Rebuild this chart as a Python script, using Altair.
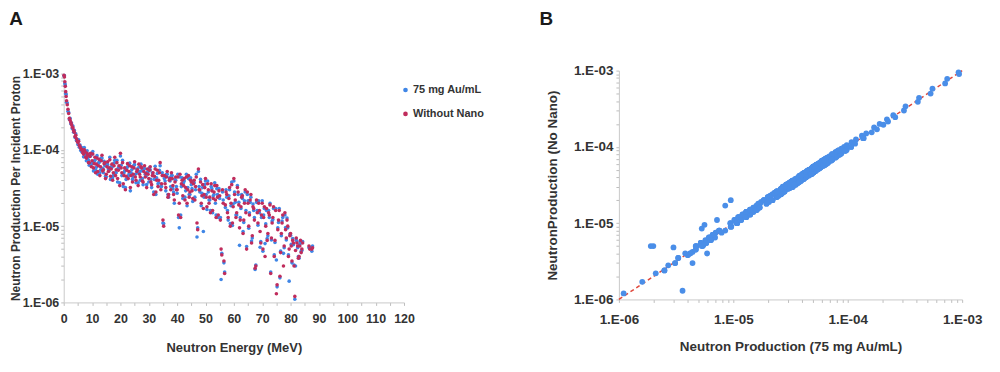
import altair as alt
import pandas as pd

# ---------------- data ----------------
ENERGY_MEV = [
    0.1, 0.25, 0.4, 0.55, 0.7, 0.85, 1.0, 1.25, 1.5, 1.75,
    2.0, 2.25, 2.5, 2.75, 3.0, 3.25, 3.5, 3.75, 4.0, 4.25, 4.5, 4.75, 5.0, 5.25, 5.5, 5.75,
    6.0, 6.25, 6.5, 6.75, 7.0, 7.25, 7.5, 7.75, 8.0, 8.25, 8.5, 8.75, 9.0, 9.25, 9.5, 9.75,
    10.0, 10.25, 10.5, 10.75, 11.0, 11.25, 11.5, 11.75, 12.0, 12.25, 12.5, 12.75, 13.0, 13.25, 13.5, 13.75,
    14.0, 14.25, 14.5, 14.75, 15.0, 15.25, 15.5, 15.75, 16.0, 16.25, 16.5, 16.75, 17.0, 17.25, 17.5, 17.75,
    18.0, 18.25, 18.5, 18.75, 19.0, 19.25, 19.5, 19.75, 20.0, 20.25, 20.5, 20.75, 21.0, 21.25, 21.5, 21.75,
    22.0, 22.25, 22.5, 22.75, 23.0, 23.25, 23.5, 23.75, 24.0, 24.25, 24.5, 24.75, 25.0, 25.25, 25.5, 25.75,
    26.0, 26.25, 26.5, 26.75, 27.0, 27.25, 27.5, 27.75, 28.0, 28.25, 28.5, 28.75, 29.0, 29.25, 29.5, 29.75,
    30.0, 30.25, 30.5, 30.75, 31.0, 31.25, 31.5, 31.75, 32.0, 32.25, 32.5, 32.75, 33.0, 33.25, 33.5, 33.75,
    34.0, 34.25, 34.5, 34.75, 35.0, 35.25, 35.5, 35.75, 36.0, 36.25, 36.5, 36.75, 37.0, 37.25, 37.5, 37.75,
    38.0, 38.25, 38.5, 38.75, 39.0, 39.25, 39.5, 39.75, 40.0, 40.25, 40.5, 40.75, 41.0, 41.25, 41.5, 41.75,
    42.0, 42.25, 42.5, 42.75, 43.0, 43.25, 43.5, 43.75, 44.0, 44.25, 44.5, 44.75, 45.0, 45.25, 45.5, 45.75,
    46.0, 46.25, 46.5, 46.75, 47.0, 47.25, 47.5, 47.75, 48.0, 48.25, 48.5, 48.75, 49.0, 49.25, 49.5, 49.75,
    50.0, 50.25, 50.5, 50.75, 51.0, 51.25, 51.5, 51.75, 52.0, 52.25, 52.5, 52.75, 53.0, 53.25, 53.5, 53.75,
    54.0, 54.25, 54.5, 54.75, 55.0, 55.25, 55.5, 55.75, 56.0, 56.25, 56.5, 56.75, 57.0, 57.25, 57.5, 57.75,
    58.0, 58.25, 58.5, 58.75, 59.0, 59.25, 59.5, 59.75, 60.0, 60.25, 60.5, 60.75, 61.0, 61.25, 61.5, 61.75,
    62.0, 62.25, 62.5, 62.75, 63.0, 63.25, 63.5, 63.75, 64.0, 64.25, 64.5, 64.75, 65.0, 65.25, 65.5, 65.75,
    66.0, 66.25, 66.5, 66.75, 67.0, 67.25, 67.5, 67.75, 68.0, 68.25, 68.5, 68.75, 69.0, 69.25, 69.5, 69.75,
    70.0, 70.25, 70.5, 70.75, 71.0, 71.25, 71.5, 71.75, 72.0, 72.25, 72.5, 72.75, 73.0, 73.25, 73.5, 73.75,
    74.0, 74.25, 74.5, 74.75, 75.0, 75.25, 75.5, 75.75, 76.0, 76.25, 76.5, 76.75, 77.0, 77.25, 77.5, 77.75,
    78.0, 78.25, 78.5, 78.75, 79.0, 79.25, 79.5, 79.75, 80.0, 80.25, 80.5, 80.75, 81.0, 81.25, 81.5, 81.75,
    82.0, 82.25, 82.5, 82.75, 83.0, 83.25, 83.5, 83.75, 84.0, 84.25, 86.5, 86.75, 87.5, 87.75,
]

NO_NANO = [
    9.5e-4, 9.0e-4, 7.8e-4, 6.8e-4, 5.8e-4, 5.0e-4, 4.4e-4, 3.9e-4, 3.4e-4, 3.0e-4,
    2.6e-4, 2.45e-4, 2.3e-4, 2.15e-4, 2.0e-4, 1.95e-4, 1.8e-4, 1.7e-4, 1.5e-4, 1.55e-4, 1.4e-4, 1.3e-4, 1.25e-4, 1.3e-4, 1.15e-4, 1.1e-4,
    1.05e-4, 1.0e-4, 1.0e-4, 9.2e-5, 8.8e-5, 1.0e-4, 9.5e-5, 8.0e-5, 7.8e-5, 9.0e-5, 8.5e-5, 6.8e-5, 6.8e-5, 8.2e-5, 9.0e-5, 6.0e-5,
    7.2e-5, 8.8e-5, 5.8e-5, 6.6e-5, 8.0e-5, 5.0e-5, 6.5e-5, 7.8e-5, 5.2e-5, 6.2e-5, 7.5e-5, 4.6e-5, 6.0e-5, 7.2e-5, 8.5e-5, 5.3e-5,
    5.5e-5, 6.6e-5, 6.8e-5, 4.2e-5, 4.8e-5, 6.0e-5, 7.0e-5, 5.2e-5, 5.8e-5, 7.4e-5, 4.5e-5, 5.6e-5, 6.5e-5, 4.0e-5, 5.0e-5, 6.2e-5,
    8.0e-5, 4.6e-5, 5.5e-5, 6.8e-5, 4.2e-5, 5.4e-5, 6.2e-5, 3.4e-5, 9.0e-5, 5.8e-5, 5.0e-5, 6.8e-5, 3.6e-5, 4.6e-5, 5.8e-5, 3.0e-5,
    4.5e-5, 5.4e-5, 6.6e-5, 4.2e-5, 5.2e-5, 6.2e-5, 3.2e-5, 4.6e-5, 6.0e-5, 3.8e-5, 4.8e-5, 5.8e-5, 7.0e-5, 4.4e-5, 4.0e-5, 5.2e-5,
    5.5e-5, 3.4e-5, 6.5e-5, 4.8e-5, 4.4e-5, 6.0e-5, 5.8e-5, 3.9e-5, 3.8e-5, 5.2e-5, 6.2e-5, 4.4e-5, 4.9e-5, 3.2e-5, 5.6e-5, 4.8e-5,
    4.2e-5, 5.4e-5, 6.0e-5, 3.8e-5, 3.5e-5, 4.6e-5, 5.0e-5, 2.6e-5, 4.5e-5, 5.6e-5, 2.8e-5, 4.0e-5, 5.4e-5, 3.3e-5, 4.0e-5, 5.0e-5,
    6.8e-5, 3.0e-5, 3.6e-5, 4.6e-5, 1.2e-5, 1.0e-5, 4.6e-5, 3.6e-5, 3.2e-5, 4.4e-5, 5.2e-5, 2.4e-5, 2.6e-5, 4.0e-5, 4.2e-5, 3.0e-5,
    5.0e-5, 4.2e-5, 3.4e-5, 2.6e-5, 2.2e-5, 3.8e-5, 4.4e-5, 3.0e-5, 3.0e-5, 4.4e-5, 1.4e-5, 2.0e-5, 4.8e-5, 1.3e-5, 3.6e-5, 4.0e-5,
    2.5e-5, 3.4e-5, 4.2e-5, 2.2e-5, 3.2e-5, 4.4e-5, 2.0e-5, 3.0e-5, 4.6e-5, 2.4e-5, 2.8e-5, 4.0e-5, 3.8e-5, 2.9e-5, 2.3e-5, 3.6e-5,
    4.0e-5, 2.2e-5, 3.3e-5, 4.4e-5, 1.1e-5, 9.0e-6, 5.6e-5, 3.0e-5, 3.0e-5, 3.8e-5, 2.0e-5, 2.5e-5, 3.5e-5, 1.7e-5, 2.6e-5, 3.2e-5,
    4.2e-5, 2.4e-5, 1.8e-5, 3.6e-5, 3.0e-5, 2.0e-5, 2.4e-5, 1.5e-5, 3.6e-5, 2.9e-5, 1.6e-5, 2.3e-5, 2.8e-5, 3.4e-5, 2.2e-5, 1.3e-5,
    3.4e-5, 2.4e-5, 1.4e-5, 2.9e-5, 2.5e-5, 1.2e-5, 5.0e-6, 4.2e-6, 3.0e-5, 2.0e-5, 3.5e-6, 2.4e-6, 1.9e-5, 2.8e-5, 2.6e-5, 1.5e-5,
    1.3e-5, 2.3e-5, 3.2e-5, 1.0e-5, 2.0e-5, 3.5e-5, 1.1e-5, 1.8e-5, 4.2e-5, 2.6e-5, 2.2e-5, 1.3e-5, 1.5e-5, 3.2e-5, 2.8e-5, 1.9e-5,
    9.5e-6, 1.2e-5, 1.8e-5, 2.4e-5, 2.5e-5, 8.0e-6, 1.2e-5, 2.0e-5, 3.0e-5, 1.5e-5, 5.0e-6, 2.8e-5, 2.0e-5, 1.0e-5, 1.4e-5, 2.2e-5,
    2.6e-5, 6.0e-6, 7.5e-6, 1.8e-5, 1.7e-5, 1.2e-5, 2.8e-6, 3.0e-6, 2.2e-5, 1.5e-5, 1.1e-5, 2.0e-5, 1.6e-5, 8.5e-6, 6.0e-6, 1.4e-5,
    2.0e-5, 5.0e-6, 1.3e-5, 1.8e-5, 4.0e-6, 1.0e-5, 1.7e-5, 6.5e-6, 8.0e-6, 1.5e-5, 1.4e-5, 1.9e-5, 2.4e-6, 7.0e-6, 1.1e-5, 1.3e-5,
    1.8e-5, 4.0e-6, 6.5e-6, 1.6e-5, 1.3e-6, 1.7e-6, 9.0e-6, 1.2e-5, 1.6e-5, 2.2e-6, 4.5e-6, 8.0e-6, 1.1e-5, 1.4e-5, 3.0e-6, 5.5e-6,
    1.5e-5, 9.0e-6, 7.0e-6, 1.2e-5, 1.0e-5, 4.0e-6, 5.0e-6, 7.5e-6, 8.0e-6, 5.5e-6, 3.5e-6, 6.5e-6, 6.0e-6, 3.0e-6, 1.2e-6, 4.8e-6,
    7.0e-6, 6.0e-6, 5.5e-6, 3.8e-6, 4.0e-6, 5.5e-6, 6.5e-6, 4.5e-6, 5.0e-6, 6.0e-6, 5.5e-6, 5.0e-6, 5.0e-6, 5.2e-6,
]

AU_75 = [
    9.3e-4, 9.4e-4, 7.4e-4, 7.1e-4, 5.5e-4, 5.3e-4, 4.2e-4, 4.1e-4, 3.2e-4, 3.1e-4,
    2.5e-4, 2.6e-4, 2.2e-4, 2.25e-4, 1.9e-4, 2.05e-4, 1.7e-4, 1.8e-4, 1.45e-4, 1.62e-4, 1.33e-4, 1.38e-4, 1.18e-4, 1.36e-4, 1.08e-4, 1.16e-4,
    9.8e-5, 1.07e-4, 9.3e-5, 9.8e-5, 8.1e-5, 1.07e-4, 8.8e-5, 8.6e-5, 7.2e-5, 9.7e-5, 7.9e-5, 7.3e-5, 6.3e-5, 8.8e-5, 8.3e-5, 6.5e-5,
    6.6e-5, 9.5e-5, 5.3e-5, 7.1e-5, 7.3e-5, 5.4e-5, 5.9e-5, 8.4e-5, 4.8e-5, 6.7e-5, 6.9e-5, 5.0e-5, 5.5e-5, 7.8e-5, 7.8e-5, 5.7e-5,
    5.0e-5, 7.1e-5, 6.2e-5, 4.5e-5, 4.4e-5, 6.5e-5, 6.4e-5, 5.6e-5, 5.3e-5, 8.0e-5, 4.1e-5, 6.0e-5, 5.9e-5, 4.3e-5, 4.6e-5, 6.7e-5,
    7.3e-5, 5.0e-5, 5.0e-5, 7.3e-5, 3.8e-5, 5.8e-5, 5.7e-5, 3.7e-5, 8.3e-5, 6.3e-5, 4.6e-5, 7.3e-5, 3.3e-5, 5.0e-5, 5.3e-5, 3.2e-5,
    4.1e-5, 5.8e-5, 6.0e-5, 4.5e-5, 4.8e-5, 6.7e-5, 2.9e-5, 5.0e-5, 5.5e-5, 4.1e-5, 4.4e-5, 6.3e-5, 6.4e-5, 4.8e-5, 3.7e-5, 5.6e-5,
    5.0e-5, 3.7e-5, 5.9e-5, 5.2e-5, 4.0e-5, 6.5e-5, 5.3e-5, 4.2e-5, 3.5e-5, 5.6e-5, 5.7e-5, 4.8e-5, 4.5e-5, 3.5e-5, 5.1e-5, 5.2e-5,
    3.8e-5, 5.8e-5, 5.5e-5, 4.1e-5, 3.2e-5, 5.0e-5, 4.6e-5, 2.8e-5, 4.1e-5, 6.1e-5, 2.6e-5, 4.3e-5, 4.9e-5, 3.6e-5, 3.7e-5, 5.4e-5,
    6.2e-5, 3.3e-5, 3.3e-5, 5.0e-5, 1.1e-5, 1.08e-5, 4.2e-5, 3.9e-5, 2.9e-5, 4.8e-5, 4.8e-5, 2.6e-5, 2.4e-5, 4.3e-5, 3.9e-5, 3.3e-5,
    4.6e-5, 4.6e-5, 3.1e-5, 2.8e-5, 2.0e-5, 4.1e-5, 4.0e-5, 3.3e-5, 2.7e-5, 4.8e-5, 1.3e-5, 9.5e-6, 4.4e-5, 1.4e-5, 3.3e-5, 4.3e-5,
    2.3e-5, 3.7e-5, 3.9e-5, 2.4e-5, 2.9e-5, 4.8e-5, 1.85e-5, 3.2e-5, 4.2e-5, 2.6e-5, 2.6e-5, 4.3e-5, 3.5e-5, 3.1e-5, 2.1e-5, 3.9e-5,
    3.7e-5, 2.4e-5, 3.0e-5, 4.8e-5, 7.2e-6, 9.5e-6, 5.2e-5, 3.3e-5, 2.8e-5, 4.1e-5, 1.85e-5, 2.7e-5, 3.2e-5, 8.5e-6, 2.4e-5, 3.5e-5,
    3.9e-5, 2.6e-5, 1.65e-5, 3.9e-5, 2.8e-5, 2.2e-5, 2.2e-5, 1.6e-5, 3.3e-5, 3.1e-5, 1.5e-5, 2.5e-5, 2.6e-5, 3.7e-5, 2.0e-5, 1.4e-5,
    3.1e-5, 2.6e-5, 1.3e-5, 3.1e-5, 2.3e-5, 1.3e-5, 2.0e-6, 4.4e-6, 2.8e-5, 2.2e-5, 3.3e-6, 2.5e-6, 1.75e-5, 3.0e-5, 2.4e-5, 1.6e-5,
    1.2e-5, 2.5e-5, 3.0e-5, 1.08e-5, 1.85e-5, 3.8e-5, 1.02e-5, 1.95e-5, 3.9e-5, 2.8e-5, 2.05e-5, 1.4e-5, 1.4e-5, 3.4e-5, 2.6e-5, 2.05e-5,
    5.6e-6, 1.3e-5, 1.7e-5, 2.6e-5, 2.3e-5, 8.5e-6, 1.12e-5, 2.15e-5, 2.8e-5, 1.6e-5, 5.4e-6, 2.6e-5, 2.15e-5, 9.4e-6, 1.5e-5, 2.05e-5,
    2.4e-5, 6.4e-6, 7.0e-6, 1.95e-5, 1.6e-5, 1.3e-5, 2.7e-6, 3.1e-6, 2.05e-5, 1.6e-5, 1.03e-5, 2.15e-5, 1.5e-5, 5.3e-6, 6.3e-6, 1.3e-5,
    2.15e-5, 4.7e-6, 1.4e-5, 1.7e-5, 5.9e-6, 1.07e-5, 1.6e-5, 6.9e-6, 7.5e-6, 1.6e-5, 1.3e-5, 2.0e-5, 2.5e-6, 6.6e-6, 1.17e-5, 1.22e-5,
    1.7e-5, 4.2e-6, 6.1e-6, 1.7e-5, 3.6e-6, 1.6e-6, 9.5e-6, 1.12e-5, 1.7e-5, 2.1e-6, 4.7e-6, 7.5e-6, 1.17e-5, 1.3e-5, 4.4e-6, 5.2e-6,
    1.4e-5, 9.6e-6, 6.6e-6, 1.28e-5, 9.5e-6, 4.2e-6, 1.9e-6, 7.9e-6, 7.6e-6, 5.8e-6, 3.3e-6, 6.9e-6, 5.7e-6, 3.1e-6, 1.1e-6, 3.0e-6,
    6.6e-6, 6.3e-6, 5.2e-6, 4.0e-6, 3.8e-6, 5.8e-6, 6.2e-6, 4.7e-6, 4.8e-6, 6.3e-6, 5.2e-6, 5.3e-6, 4.7e-6, 5.5e-6,
]

SERIES = ["75 mg Au/mL", "Without Nano"]
SERIES_COLORS = ["#3f86e6", "#c02c5c"]
ENERGY_TICKS = [0, 5, 10, 15, 20, 25, 30, 35, 40, 45, 50, 55, 60, 65, 70, 75, 80, 85, 90, 95, 100, 105, 110, 115, 120]
LOG_TICKS = [m * 10.0 ** e for e in (-6, -5, -4) for m in range(1, 10)] + [1e-3]
DIAGONAL = [1e-6, 1e-3]

FONT = "Liberation Sans"
TXT = "#333333"

LOG_LABEL = ("abs(log(datum.value)/LN10 - round(log(datum.value)/LN10)) < 0.001 ? "
             "'1.E-0' + (-round(log(datum.value)/LN10)) : ''")

# ---------------- tables ----------------
dfA = pd.concat([
    pd.DataFrame({"energy": ENERGY_MEV, "value": AU_75, "series": SERIES[0]}),
    pd.DataFrame({"energy": ENERGY_MEV, "value": NO_NANO, "series": SERIES[1]}),
], ignore_index=True)
dfB = pd.DataFrame({"au": AU_75, "no": NO_NANO})
dfDiag = pd.DataFrame({"x": DIAGONAL, "y": DIAGONAL})

# ---------------- panel A ----------------
xA = alt.X("energy:Q",
           scale=alt.Scale(domain=[0, 120], range=[0, 342], nice=False, zero=False),
           axis=alt.Axis(values=ENERGY_TICKS, orient="bottom", offset=3,
                         labelExpr="datum.value % 10 == 0 ? datum.label : ''",
                         title="Neutron Energy (MeV)", labelFontSize=12.5, titleFontSize=13,
                         tickSize=3, labelPadding=7, titlePadding=17, labelOverlap=False))
yA = alt.Y("value:Q",
           scale=alt.Scale(type="log", domain=[1e-6, 1e-3], range=[233, 3], nice=False),
           axis=alt.Axis(values=LOG_TICKS, orient="left", labelExpr=LOG_LABEL,
                         title="Neutron Production Per Incident Proton",
                         labelFontSize=12.5, titleFontSize=12, tickSize=3,
                         labelPadding=2, titlePadding=0, labelOverlap=False))
panelA = alt.Chart(dfA).mark_circle(size=13, opacity=1).encode(
    x=xA, y=yA,
    color=alt.Color("series:N",
                    scale=alt.Scale(domain=SERIES, range=SERIES_COLORS),
                    legend=alt.Legend(orient="none", legendX=338, legendY=14, title=None,
                                      padding=0, symbolType="circle", symbolSize=22,
                                      rowPadding=12, labelFont=FONT, labelFontSize=11,
                                      labelFontWeight="bold", labelColor=TXT, labelOffset=2)),
)

# ---------------- panel B ----------------
scBx = alt.Scale(type="log", domain=[1e-6, 1e-3], range=[558, 903], nice=False)
scBy = alt.Scale(type="log", domain=[1e-6, 1e-3], nice=False)
axBx = alt.Axis(values=LOG_TICKS, orient="bottom", labelExpr=LOG_LABEL,
                title="Neutron Production (75 mg Au/mL)", labelFontSize=13.5,
                titleFontSize=13.5, tickSize=3, labelPadding=10, titlePadding=14,
                labelOverlap=False)
axBy = alt.Axis(values=LOG_TICKS, orient="left", offset=-558, labelExpr=LOG_LABEL,
                title="NeutronProduction (No Nano)", labelFontSize=13.5,
                titleFontSize=13.5, tickSize=3, labelPadding=3, titlePadding=14,
                labelOverlap=False)

diag = alt.Chart(dfDiag).mark_line(color="#e0483c", strokeDash=[4, 3], strokeWidth=1.5).encode(
    x=alt.X("x:Q", scale=scBx, axis=axBx),
    y=alt.Y("y:Q", scale=scBy, axis=axBy),
)
ptsB = alt.Chart(dfB).mark_circle(size=34, opacity=1, color="#4a8ee8").encode(
    x=alt.X("au:Q", scale=scBx, axis=axBx),
    y=alt.Y("no:Q", scale=scBy, axis=axBy),
)
panelB = alt.layer(diag, ptsB)

# ---------------- panel letters ----------------
blank = alt.Data(values=[{}])
letterA = alt.Chart(blank).mark_text(text="A", font=FONT, fontSize=19, baseline="top",
                                     fontWeight="bold", color="#1a1a1a").encode(
    x=alt.value(-48), y=alt.value(-61))
letterB = alt.Chart(blank).mark_text(text="B", font=FONT, fontSize=19, baseline="top",
                                     fontWeight="bold", color="#1a1a1a").encode(
    x=alt.value(485), y=alt.value(-61))

chart = alt.layer(panelA, panelB, letterA, letterB).resolve_scale(
    x="independent", y="independent"
).properties(
    width=903, height=230,
    autosize=alt.AutoSizeParams(type="none"),
    padding={"left": 56, "top": 62, "right": 30, "bottom": 70},
).configure_view(stroke=None).configure_axis(
    grid=False, domainColor="#c9c9c9", tickColor="#bdbdbd", labelFlush=False,
    labelFont=FONT, titleFont=FONT, labelFontWeight="bold", titleFontWeight="bold",
    labelColor=TXT, titleColor=TXT,
)

chart.save("out.html", embed_options={"renderer": "svg", "actions": False})
